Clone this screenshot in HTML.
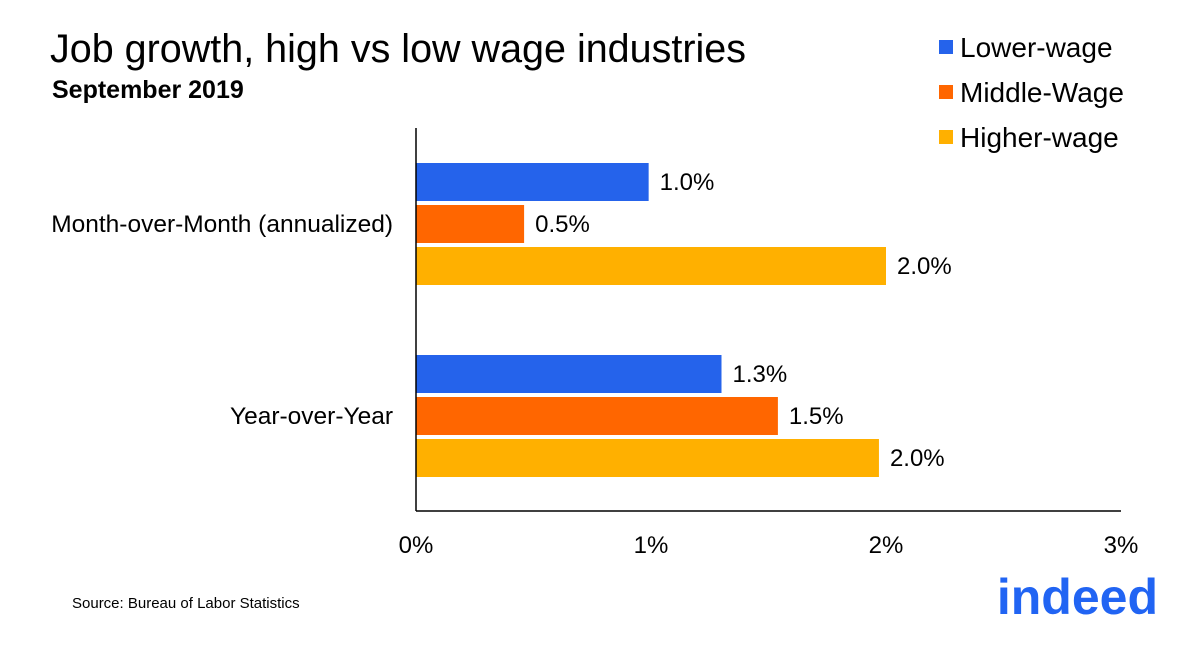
<!DOCTYPE html>
<html><head><meta charset="utf-8"><style>
body{margin:0;background:#fff;}
svg{display:block;font-family:"Liberation Sans",Arial,sans-serif;}
</style></head><body>
<svg width="1200" height="654" viewBox="0 0 1200 654">
<text x="50" y="62" font-size="39.5" fill="#000">Job growth, high vs low wage industries</text>
<text x="52" y="98" font-size="25" font-weight="bold" fill="#000">September 2019</text>
<g>
<g><rect x="939" y="40" width="14" height="14" fill="#2563eb"/><text x="960" y="57" font-size="28">Lower-wage</text></g>
<g><rect x="939" y="85" width="14" height="14" fill="#ff6600"/><text x="960" y="102" font-size="28">Middle-Wage</text></g>
<g><rect x="939" y="130" width="14" height="14" fill="#ffb000"/><text x="960" y="147" font-size="28">Higher-wage</text></g>
</g>
<g id="plot"></g>
<text x="72" y="608" font-size="15" fill="#000">Source: Bureau of Labor Statistics</text>
<text x="1158" y="614" font-size="50" font-weight="bold" fill="#2164f3" text-anchor="end">indeed</text>
</svg>
<script>
const categories = ["Month-over-Month (annualized)", "Year-over-Year"];
const seriesNames = ["Lower-wage", "Middle-Wage", "Higher-wage"];
const lowerValues = [0.99, 1.30];
const middleValues = [0.46, 1.54];
const higherValues = [2.0, 1.97];
const lowerLabels = ["1.0%", "1.3%"];
const middleLabels = ["0.5%", "1.5%"];
const higherLabels = ["2.0%", "2.0%"];
const ticks = [0, 1, 2, 3];
const tickLabels = ["0%", "1%", "2%", "3%"];

const NS = "http://www.w3.org/2000/svg";
const plot = document.getElementById('plot');
const x0 = 416, x1 = 1121, xmax = 3;
const xs = v => x0 + (x1 - x0) * v / xmax;
const groupTop = [163, 355];
const barH = 38, barStep = 42;
const colors = ["#2563eb", "#ff6600", "#ffb000"];
const values = [lowerValues, middleValues, higherValues];
const labels = [lowerLabels, middleLabels, higherLabels];
function mk(tag, attrs){const e=document.createElementNS(NS,tag);for(const k in attrs)e.setAttribute(k,attrs[k]);plot.appendChild(e);return e;}

categories.forEach((c, ci) => {
  const t = mk('text', {x: 393, y: groupTop[ci] + barStep + barH/2 + 8, 'font-size': 24.5, 'text-anchor': 'end'});
  t.textContent = c;
  
  
  values.forEach((arr, si) => {
    const y = groupTop[ci] + si * barStep;
    const r = mk('rect', {x: x0, y: y, width: xs(arr[ci]) - x0, height: barH, fill: colors[si]});
    
    
    const l = mk('text', {x: xs(arr[ci]) + 11, y: y + barH/2 + 8, 'font-size': 24});
    l.textContent = labels[si][ci];
    
    
  });
});
const ax = mk('line', {x1: x0, y1: 128, x2: x0, y2: 511, stroke: '#000', 'stroke-width': 1.5});


const bx = mk('line', {x1: x0, y1: 511, x2: x1, y2: 511, stroke: '#000', 'stroke-width': 1.5});


ticks.forEach((t, i) => {
  const e = mk('text', {x: xs(t), y: 553, 'font-size': 24, 'text-anchor': 'middle'});
  e.textContent = tickLabels[i];
  
  
});
</script>
</body></html>
